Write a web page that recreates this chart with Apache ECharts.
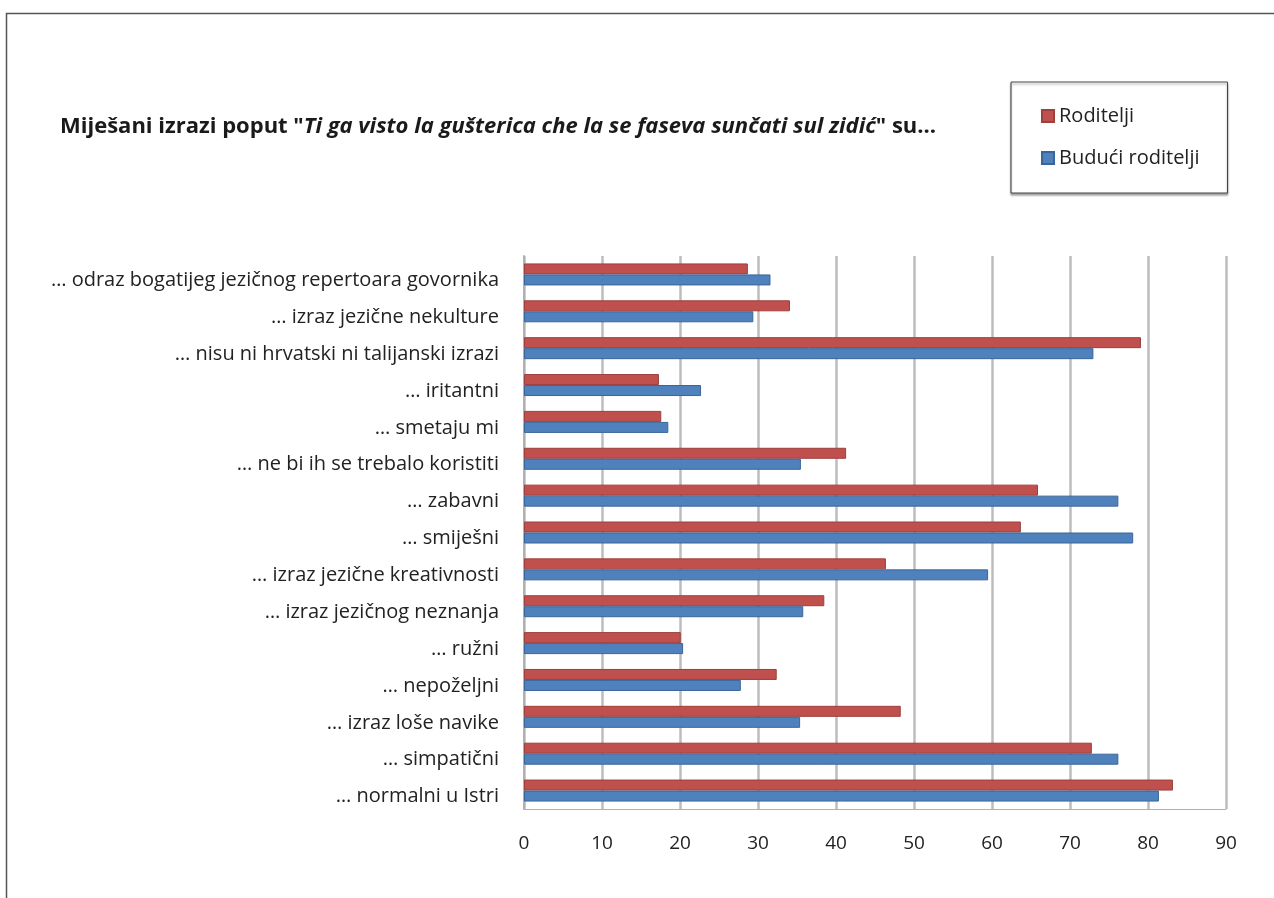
<!DOCTYPE html>
<html>
<head>
<meta charset="utf-8">
<script src="https://cdn.jsdelivr.net/npm/echarts@6/dist/echarts.min.js"></script>
<style>
html,body{margin:0;padding:0;background:#fff;}
#chart{width:1274px;height:898px;}
</style>
</head>
<body>
<div id="chart"></div>
<script>
const categories = [
  '… odraz bogatijeg jezičnog repertoara govornika',
  '… izraz jezične nekulture',
  '… nisu ni hrvatski ni talijanski izrazi',
  '… iritantni',
  '… smetaju mi',
  '… ne bi ih se trebalo koristiti',
  '… zabavni',
  '… smiješni',
  '… izraz jezične kreativnosti',
  '… izraz jezičnog neznanja',
  '… ružni',
  '… nepoželjni',
  '… izraz loše navike',
  '… simpatični',
  '… normalni u Istri'
];
const roditelji = [28.7, 34.1, 79.1, 17.3, 17.6, 41.3, 65.9, 63.7, 46.4, 38.5, 20.1, 32.4, 48.3, 72.8, 83.2];
const buduciRoditelji = [31.6, 29.4, 73.0, 22.7, 18.5, 35.5, 76.2, 78.1, 59.5, 35.8, 20.4, 27.8, 35.4, 76.2, 81.4];
const seriesNames = ['Roditelji', 'Budući roditelji'];
const xTicks = [0, 10, 20, 30, 40, 50, 60, 70, 80, 90];

const FONT = 'Open Sans';
const chart = echarts.init(document.getElementById('chart'), null, {renderer: 'canvas'});
chart.setOption({
  backgroundColor: '#ffffff',
  animation: false,
  title: {
    left: 55, top: 111,
    text: '{b|Miješani izrazi poput "}{bi|Ti ga visto la gušterica che la se faseva sunčati sul zidić}{b|" su...}',
    textStyle: {
      rich: {
        b: {fontFamily: FONT, fontWeight: 'bold', fontSize: 22, color: '#1a1a1a'},
        bi: {fontFamily: FONT, fontWeight: 'bold', fontStyle: 'italic', fontSize: 22, color: '#1a1a1a'}
      }
    }
  },
  legend: {
    orient: 'vertical',
    left: 1011, top: 82,
    data: seriesNames,
    icon: 'rect',
    itemWidth: 12, itemHeight: 12,
    itemGap: 22,
    padding: [24, 28, 25, 30],
    borderColor: '#444',
    borderWidth: 1,
    shadowColor: 'rgba(0,0,0,0.35)',
    shadowOffsetY: 2,
    shadowBlur: 2,
    backgroundColor: '#fff',
    textStyle: {fontFamily: FONT, fontSize: 20, color: '#222'}
  },
  grid: {left: 524, top: 256, width: 702, height: 553, containLabel: false},
  xAxis: {
    type: 'value',
    min: 0, max: 90, interval: 10,
    axisLine: {show: true, lineStyle: {color: '#b0b0b0', width: 1}},
    axisTick: {show: false},
    splitLine: {show: true, lineStyle: {color: '#bdbdbd', width: 2.5}},
    axisLabel: {
      margin: 25, fontFamily: FONT, fontSize: 19, color: '#222',
      formatter: v => xTicks.includes(v) ? String(v) : ''
    }
  },
  yAxis: {
    type: 'category',
    data: categories,
    inverse: true,
    axisLine: {show: true, lineStyle: {color: '#b0b0b0', width: 2}},
    axisTick: {show: false},
    splitLine: {show: false},
    axisLabel: {
      margin: 25, fontFamily: FONT, fontSize: 20, color: '#222',
      verticalAlign: 'top', lineHeight: 12
    }
  },
  series: [
    {
      name: seriesNames[0], type: 'bar', data: roditelji,
      barWidth: 11, barGap: '0%',
      itemStyle: {color: '#C0504D', borderColor: '#9d3f3c', borderWidth: 1}
    },
    {
      name: seriesNames[1], type: 'bar', data: buduciRoditelji,
      barWidth: 11, barGap: '0%',
      itemStyle: {color: '#4F81BD', borderColor: '#3a659a', borderWidth: 1}
    }
  ],
  graphic: [
    {type: 'rect', left: 4, top: 11, shape: {width: 1290, height: 900},
     style: {fill: 'none', stroke: '#555', lineWidth: 1.5}, silent: true}
  ]
});
</script>
</body>
</html>
